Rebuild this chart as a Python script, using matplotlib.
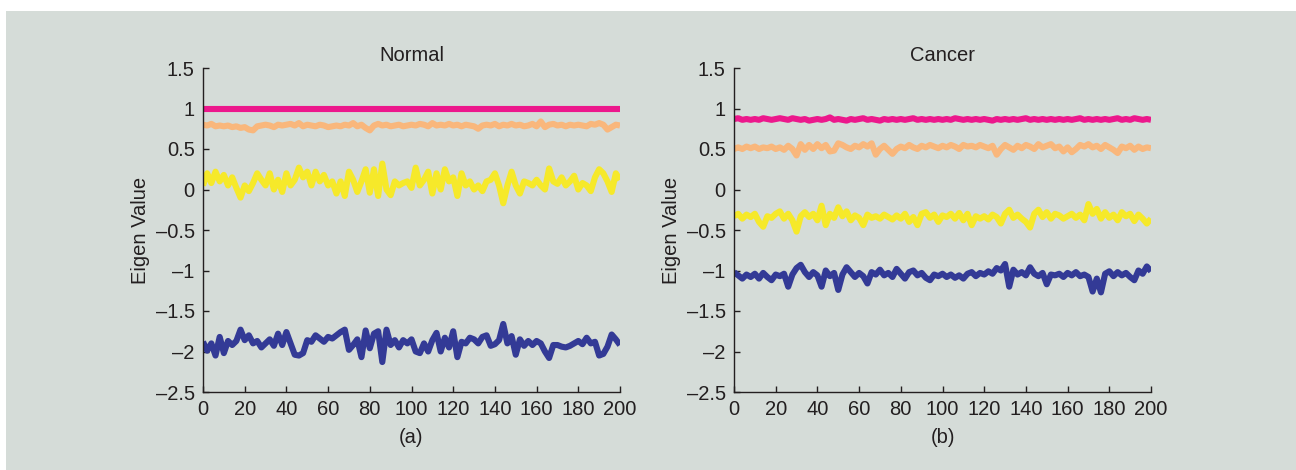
import matplotlib.pyplot as plt
from matplotlib.patches import Rectangle
import numpy as np

plt.rcParams['font.family'] = ['Liberation Sans', 'DejaVu Sans']

# sample index, every second step
steps = list(range(0, 201, 2))

# Normal
normal_pink = [
    1.0, 1.0, 1.0, 1.0, 1.0, 1.0, 1.0, 1.0, 1.0, 1.0,
    1.0, 1.0, 1.0, 1.0, 1.0, 1.0, 1.0, 1.0, 1.0, 1.0,
    1.0, 1.0, 1.0, 1.0, 1.0, 1.0, 1.0, 1.0, 1.0, 1.0,
    1.0, 1.0, 1.0, 1.0, 1.0, 1.0, 1.0, 1.0, 1.0, 1.0,
    1.0, 1.0, 1.0, 1.0, 1.0, 1.0, 1.0, 1.0, 1.0, 1.0,
    1.0, 1.0, 1.0, 1.0, 1.0, 1.0, 1.0, 1.0, 1.0, 1.0,
    1.0, 1.0, 1.0, 1.0, 1.0, 1.0, 1.0, 1.0, 1.0, 1.0,
    1.0, 1.0, 1.0, 1.0, 1.0, 1.0, 1.0, 1.0, 1.0, 1.0,
    1.0, 1.0, 1.0, 1.0, 1.0, 1.0, 1.0, 1.0, 1.0, 1.0,
    1.0, 1.0, 1.0, 1.0, 1.0, 1.0, 1.0, 1.0, 1.0, 1.0,
    1.0,
]
normal_orange = [
    0.80, 0.79, 0.81, 0.78, 0.79, 0.78, 0.79, 0.77, 0.78, 0.76,
    0.77, 0.74, 0.73, 0.78, 0.79, 0.80, 0.79, 0.77, 0.80, 0.79,
    0.80, 0.81, 0.79, 0.82, 0.78, 0.80, 0.79, 0.78, 0.80, 0.79,
    0.77, 0.78, 0.79, 0.78, 0.80, 0.79, 0.82, 0.78, 0.80, 0.76,
    0.73, 0.79, 0.81, 0.79, 0.80, 0.78, 0.79, 0.80, 0.78, 0.79,
    0.80, 0.79, 0.81, 0.80, 0.78, 0.82, 0.79, 0.80, 0.79, 0.81,
    0.79, 0.80, 0.78, 0.80, 0.79, 0.78, 0.75, 0.79, 0.80, 0.79,
    0.81, 0.78, 0.80, 0.79, 0.81, 0.79, 0.80, 0.78, 0.79, 0.81,
    0.78, 0.84, 0.77, 0.80, 0.81, 0.79, 0.80, 0.78, 0.80, 0.79,
    0.80, 0.79, 0.78, 0.81, 0.80, 0.82, 0.80, 0.74, 0.77, 0.80,
    0.79,
]
normal_yellow = [
    0.05, 0.20, 0.08, 0.22, 0.10, 0.18, 0.05, 0.15, 0.02, -0.10,
    0.05, -0.02, 0.08, 0.20, 0.12, 0.05, 0.20, 0.00, 0.12, -0.03,
    0.20, 0.05, 0.12, 0.27, 0.15, 0.22, 0.05, 0.22, 0.10, 0.18,
    0.05, 0.10, -0.05, 0.10, -0.08, 0.22, 0.12, -0.03, 0.10, 0.25,
    -0.04, 0.25, -0.08, 0.32, 0.00, -0.07, 0.10, 0.05, 0.08, 0.10,
    0.02, 0.27, 0.05, 0.12, 0.22, -0.05, 0.20, 0.00, 0.25, 0.10,
    0.15, -0.08, 0.20, 0.05, 0.10, 0.00, 0.05, -0.02, 0.10, 0.12,
    0.20, 0.05, -0.17, 0.05, 0.22, 0.05, -0.05, 0.10, 0.08, 0.05,
    0.12, 0.05, 0.00, 0.26, 0.10, 0.07, 0.15, 0.05, 0.10, 0.17,
    0.00, 0.08, 0.05, -0.02, 0.15, 0.25, 0.20, 0.10, -0.03, 0.20,
    0.12,
]
normal_blue = [
    -1.88, -1.99, -1.90, -2.05, -1.82, -2.02, -1.87, -1.92, -1.87, -1.73,
    -1.86, -1.80, -1.90, -1.87, -1.95, -1.90, -1.85, -1.93, -1.78, -1.92,
    -1.76, -1.90, -2.04, -2.05, -2.02, -1.86, -1.88, -1.80, -1.84, -1.88,
    -1.82, -1.84, -1.80, -1.76, -1.73, -1.98, -1.92, -1.85, -2.07, -1.74,
    -1.96, -1.78, -1.75, -2.13, -1.73, -1.92, -1.86, -1.95, -1.86, -1.90,
    -1.85, -2.00, -2.02, -1.90, -2.00, -1.86, -1.77, -2.00, -1.83, -1.95,
    -1.75, -2.07, -1.88, -1.90, -1.83, -1.85, -1.90, -1.82, -1.80, -1.93,
    -1.91, -1.86, -1.66, -1.90, -1.81, -2.04, -1.85, -1.93, -1.87, -1.92,
    -1.87, -1.90, -2.00, -2.08, -1.92, -1.92, -1.94, -1.95, -1.93, -1.90,
    -1.87, -1.91, -1.83, -1.90, -1.88, -2.05, -2.03, -1.94, -1.79, -1.85,
    -1.92,
]

# Cancer
cancer_pink = [
    0.87, 0.88, 0.86, 0.87, 0.86, 0.87, 0.86, 0.88, 0.87, 0.86,
    0.87, 0.88, 0.87, 0.86, 0.88, 0.87, 0.86, 0.87, 0.85, 0.86,
    0.87, 0.86, 0.87, 0.89, 0.86, 0.87, 0.86, 0.85, 0.87, 0.86,
    0.87, 0.88, 0.86, 0.87, 0.86, 0.85, 0.87, 0.86, 0.87, 0.86,
    0.87, 0.86, 0.87, 0.88, 0.86, 0.87, 0.86, 0.87, 0.86, 0.87,
    0.86, 0.87, 0.86, 0.88, 0.87, 0.86, 0.87, 0.86, 0.87, 0.86,
    0.87, 0.86, 0.85, 0.87, 0.86, 0.87, 0.86, 0.87, 0.86, 0.87,
    0.88, 0.86, 0.87, 0.86, 0.87, 0.86, 0.87, 0.86, 0.87, 0.86,
    0.87, 0.86, 0.87, 0.88, 0.86, 0.87, 0.86, 0.87, 0.86, 0.87,
    0.86, 0.87, 0.88, 0.86, 0.87, 0.86, 0.88, 0.87, 0.86, 0.87,
    0.86,
]
cancer_orange = [
    0.50, 0.52, 0.50, 0.53, 0.51, 0.53, 0.50, 0.52, 0.51, 0.53,
    0.50, 0.52, 0.49, 0.54, 0.50, 0.42, 0.56, 0.49, 0.55, 0.50,
    0.56, 0.51, 0.55, 0.47, 0.48, 0.57, 0.55, 0.52, 0.50, 0.54,
    0.52, 0.56, 0.53, 0.57, 0.43, 0.50, 0.54, 0.49, 0.44, 0.50,
    0.53, 0.51, 0.55, 0.52, 0.50, 0.54, 0.52, 0.55, 0.53, 0.51,
    0.54, 0.52, 0.55, 0.53, 0.50, 0.55, 0.53, 0.54, 0.52, 0.55,
    0.53, 0.51, 0.54, 0.43, 0.50, 0.55, 0.52, 0.49, 0.54, 0.51,
    0.55, 0.53, 0.50, 0.56, 0.52, 0.54, 0.56, 0.51, 0.53, 0.47,
    0.52, 0.46, 0.50, 0.55, 0.53, 0.56, 0.52, 0.54, 0.50, 0.55,
    0.52, 0.49, 0.45, 0.53, 0.51, 0.54, 0.49, 0.53, 0.50, 0.52,
    0.51,
]
cancer_yellow = [
    -0.33, -0.30, -0.36, -0.31, -0.34, -0.30, -0.40, -0.46, -0.33, -0.35,
    -0.30, -0.27, -0.36, -0.30, -0.38, -0.52, -0.33, -0.28, -0.34, -0.30,
    -0.38, -0.20, -0.44, -0.30, -0.35, -0.22, -0.33, -0.27, -0.38, -0.32,
    -0.35, -0.44, -0.31, -0.35, -0.33, -0.36, -0.31, -0.34, -0.37, -0.32,
    -0.36, -0.30, -0.40, -0.34, -0.44, -0.30, -0.28, -0.35, -0.31, -0.40,
    -0.32, -0.34, -0.30, -0.36, -0.29, -0.38, -0.30, -0.44, -0.33, -0.36,
    -0.33, -0.37, -0.31, -0.34, -0.42, -0.30, -0.25, -0.35, -0.31, -0.36,
    -0.40, -0.47, -0.30, -0.25, -0.34, -0.28, -0.36, -0.30, -0.32, -0.36,
    -0.33, -0.30, -0.35, -0.31, -0.38, -0.18, -0.30, -0.24, -0.36, -0.28,
    -0.35, -0.31, -0.38, -0.28, -0.33, -0.30, -0.39, -0.31, -0.36, -0.42,
    -0.36,
]
cancer_blue = [
    -1.02, -1.06, -1.10, -1.05, -1.08, -1.04, -1.10, -1.03, -1.08, -1.12,
    -1.05, -1.07, -1.04, -1.20, -1.05, -0.97, -0.93, -1.02, -1.08, -1.02,
    -1.06, -1.20, -1.00, -1.07, -1.03, -1.24, -1.05, -0.96, -1.02, -1.08,
    -1.03, -1.07, -1.16, -1.02, -1.05, -0.99, -1.06, -1.03, -1.08, -0.98,
    -1.04, -1.10, -1.02, -1.00, -1.06, -1.03, -1.09, -1.12, -1.05, -1.07,
    -1.04, -1.08, -1.05, -1.09, -1.06, -1.10, -1.04, -1.02, -1.07, -1.03,
    -1.05, -1.01, -1.04, -0.97, -1.00, -0.92, -1.20, -0.99, -1.05, -1.02,
    -1.06, -0.96, -1.04, -1.07, -1.03, -1.17, -1.05, -1.06, -1.04, -1.08,
    -1.03, -1.06, -1.02, -1.07, -1.05, -1.08, -1.26, -1.10, -1.27, -1.04,
    -1.01, -1.07, -1.02, -1.06, -1.03, -1.08, -1.12, -1.00, -1.04, -0.95,
    -1.01,
]

y_ticks = [-2.5, -2, -1.5, -1, -0.5, 0, 0.5, 1, 1.5]
y_tick_labels = ['\u20132.5', '\u20132', '\u20131.5', '\u20131', '\u20130.5', '0', '0.5', '1', '1.5']
x_ticks = [0, 20, 40, 60, 80, 100, 120, 140, 160, 180, 200]

colors = {'pink': '#ec188c', 'orange': '#f9b77c', 'yellow': '#f6e92a', 'blue': '#333a96'}
bg = '#d5dcd8'
ink = '#231f20'
fs = 14.5

fig = plt.figure(figsize=(12.96, 4.70), dpi=100)
fig.patch.set_facecolor('white')
# grey panel behind everything (white strip at top and left)
fig.patches.append(Rectangle((6 / 1296, 0), 1290 / 1296, 459 / 470,
                             transform=fig.transFigure, facecolor=bg,
                             edgecolor='none', zorder=-10))

panels = [
    (203, 'Normal', '(a)', [normal_pink, normal_orange, normal_yellow, normal_blue]),
    (734, 'Cancer', '(b)', [cancer_pink, cancer_orange, cancer_yellow, cancer_blue]),
]

for left_px, title, sub, series in panels:
    ax = fig.add_axes([left_px / 1296, 1 - 392 / 470, 417 / 1296, 324 / 470])
    ax.set_facecolor('none')
    for vals, key in zip(series, ['pink', 'orange', 'yellow', 'blue']):
        ax.plot(steps, vals, color=colors[key], lw=4.4, solid_joinstyle='round',
                solid_capstyle='butt')
    ax.set_xlim(0, 200)
    ax.set_ylim(-2.5, 1.5)
    ax.set_xticks(x_ticks)
    ax.set_yticks(y_ticks)
    ax.set_yticklabels(y_tick_labels)
    for s in ['top', 'right']:
        ax.spines[s].set_visible(False)
    for s in ['left', 'bottom']:
        ax.spines[s].set_color(ink)
        ax.spines[s].set_linewidth(1.0)
    ax.tick_params(direction='in', length=4, width=1, labelsize=fs,
                   colors=ink, pad=6)
    ax.set_title(title, fontsize=fs, color=ink, pad=5)
    ax.set_xlabel(sub, fontsize=fs, color=ink, labelpad=6)
    ax.set_ylabel('Eigen Value', fontsize=fs, color=ink, labelpad=4)

fig.savefig('out.png', dpi=100, facecolor=fig.get_facecolor())
